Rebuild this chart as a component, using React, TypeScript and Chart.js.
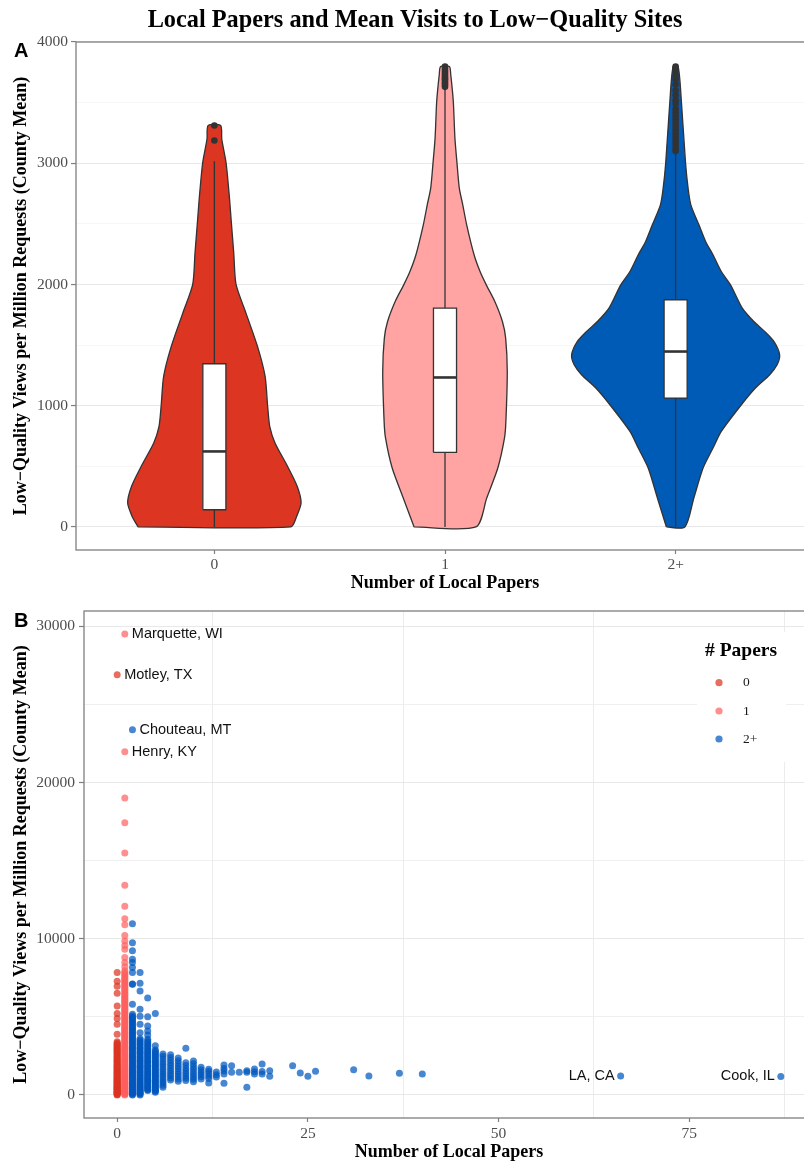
import React, { useEffect, useRef } from 'react';
import { Chart, registerables } from 'chart.js';

Chart.register(...registerables);

const SERIF = "'Liberation Serif', 'Times New Roman', Times, serif";
const SANS = "'Liberation Sans', Arial, Helvetica, sans-serif";

const MAIN_TITLE = 'Local Papers and Mean Visits to Low\u2212Quality Sites';
const Y_TITLE = 'Low\u2212Quality Views per Million Requests (County Mean)';
const X_TITLE = 'Number of Local Papers';

// ---------- Panel A: violins + boxplots ----------
const groupLabels = ['0', '1', '2+'];
const groupFill = ['#DC3522', '#FFA3A3', '#005BB7'];

const densityViews0 = [0, 89, 199, 336, 501, 693, 830, 995, 1242, 1489, 1764, 2000, 2260, 2500, 2700, 3000, 3200, 3311];
const densityWidth0 = [0.331, 0.357, 0.376, 0.359, 0.317, 0.263, 0.24, 0.231, 0.22, 0.187, 0.137, 0.094, 0.084, 0.074, 0.066, 0.051, 0.032, 0.027];
const densityViews1 = [0, 239, 486, 734, 871, 1283, 1558, 1695, 1860, 1997, 2107, 2245, 2492, 2657, 2795, 3001, 3207, 3509, 3729, 3797];
const densityWidth1 = [0.134, 0.181, 0.229, 0.258, 0.264, 0.27, 0.263, 0.249, 0.216, 0.179, 0.152, 0.126, 0.094, 0.077, 0.062, 0.052, 0.043, 0.036, 0.025, 0.019];
const densityViews2 = [0, 239, 486, 651, 788, 1008, 1146, 1256, 1338, 1420, 1530, 1613, 1695, 1805, 1997, 2107, 2245, 2355, 2492, 2657, 2795, 3001, 3509, 3797];
const densityWidth2 = [0.04, 0.079, 0.119, 0.162, 0.198, 0.285, 0.346, 0.408, 0.44, 0.451, 0.426, 0.386, 0.339, 0.289, 0.238, 0.198, 0.162, 0.13, 0.101, 0.066, 0.054, 0.043, 0.025, 0.011];

const boxLower = [142, 615, 1063];
const boxMedian = [623, 1233, 1447];
const boxUpper = [1346, 1805, 1874];
const whiskerLow = [0, 0, 0];
const whiskerHigh = [3017, 3619, 3096];
const outliers0 = [3187, 3311];
const outliers1 = [3630, 3645, 3660, 3675, 3690, 3700, 3715, 3730, 3745, 3760, 3780, 3797];
const outliers2 = [3100, 3120, 3150, 3180, 3210, 3240, 3270, 3300, 3330, 3360, 3390, 3420, 3450, 3490, 3520, 3560, 3600, 3650, 3690, 3720, 3760, 3780, 3797];

const yTicksA = [0, 500, 1000, 1500, 2000, 2500, 3000, 3500, 4000];
const xTicksA = [0, 1, 2];

// ---------- Panel B: scatter ----------
const zeroPaperViews = [0, 30, 60, 90, 120, 150, 180, 215, 250, 285, 320, 355, 390, 425, 460, 495, 530, 565, 600, 640, 680, 720, 760, 800, 840, 880, 920, 960, 1000, 1045, 1090, 1135, 1180, 1225, 1270, 1315, 1360, 1405, 1450, 1495, 1540, 1590, 1640, 1690, 1740, 1790, 1840, 1890, 1940, 1995, 2050, 2105, 2160, 2215, 2270, 2325, 2380, 2440, 2500, 2560, 2620, 2680, 2740, 2800, 2860, 2920, 2980, 3040, 3100, 3160, 3220, 3280, 3330, 3400, 3890, 4530, 4890, 5210, 5700, 6510, 6956, 7275, 7830, 26900];
const onePaperViews = [0, 40, 80, 120, 160, 200, 240, 285, 330, 375, 420, 465, 510, 555, 600, 650, 700, 750, 800, 850, 900, 950, 1000, 1050, 1100, 1150, 1200, 1255, 1310, 1365, 1420, 1475, 1530, 1585, 1640, 1700, 1760, 1820, 1880, 1940, 2000, 2060, 2120, 2185, 2250, 2315, 2380, 2445, 2510, 2575, 2640, 2710, 2780, 2850, 2920, 2990, 3060, 3130, 3200, 3275, 3350, 3425, 3500, 3575, 3650, 3725, 3800, 3875, 3950, 4025, 4100, 4180, 4260, 4340, 4420, 4500, 4580, 4660, 4740, 4820, 4900, 4980, 5060, 5145, 5230, 5315, 5400, 5485, 5570, 5655, 5740, 5825, 5910, 5995, 6080, 6170, 6260, 6350, 6440, 6530, 6620, 6710, 6800, 6890, 6980, 7070, 7160, 7255, 7350, 7445, 7540, 7640, 7740, 7845, 7950, 8210, 8470, 8790, 9320, 9570, 9850, 10210, 10890, 11275, 12080, 13420, 15490, 17420, 19000, 21970, 29500];
const multiPaperCounts = [2, 3, 4, 5, 6, 7, 8, 9, 10, 11, 12, 13, 14, 15, 16, 17, 18, 19, 20, 23, 24, 25, 26, 31, 33, 37, 40, 66, 87];
const multiPaperViews = [
  [0, 45, 90, 135, 180, 230, 280, 330, 380, 430, 480, 535, 590, 645, 700, 755, 810, 865, 920, 980, 1040, 1100, 1160, 1220, 1280, 1340, 1400, 1460, 1520, 1585, 1650, 1715, 1780, 1845, 1910, 1975, 2040, 2110, 2180, 2250, 2320, 2390, 2460, 2530, 2600, 2675, 2750, 2825, 2900, 2975, 3050, 3125, 3200, 3280, 3360, 3440, 3520, 3600, 3680, 3765, 3850, 3935, 4020, 4105, 4190, 4275, 4360, 4450, 4540, 4630, 4720, 4810, 4900, 4980, 5060, 5170, 5810, 7085, 7100, 7830, 8150, 8470, 8680, 9235, 9745, 10960, 23380],
  [0, 55, 110, 170, 230, 290, 350, 415, 480, 545, 610, 675, 740, 810, 880, 950, 1020, 1090, 1160, 1230, 1300, 1375, 1450, 1525, 1600, 1675, 1750, 1825, 1900, 1980, 2060, 2140, 2220, 2300, 2380, 2465, 2550, 2635, 2720, 2805, 2890, 2975, 3060, 3150, 3240, 3330, 3420, 3510, 3600, 3980, 4530, 5030, 5490, 6650, 7150, 7830],
  [280, 340, 400, 465, 530, 595, 660, 730, 800, 870, 940, 1010, 1080, 1150, 1220, 1295, 1370, 1445, 1520, 1595, 1670, 1745, 1820, 1900, 1980, 2060, 2140, 2220, 2300, 2385, 2470, 2555, 2640, 2725, 2810, 2900, 2990, 3080, 3170, 3265, 3360, 3460, 3560, 3830, 4100, 4420, 5000, 6210],
  [170, 235, 300, 370, 440, 510, 580, 650, 720, 795, 870, 945, 1020, 1095, 1170, 1250, 1330, 1410, 1490, 1570, 1650, 1735, 1820, 1905, 1990, 2075, 2160, 2250, 2340, 2430, 2520, 2610, 2700, 2790, 2880, 3150, 5210],
  [490, 620, 760, 900, 1040, 1190, 1340, 1490, 1650, 1810, 1970, 2130, 2300, 2470, 2620],
  [950, 1090, 1240, 1390, 1550, 1710, 1880, 2050, 2220, 2400, 2580],
  [870, 1020, 1180, 1340, 1500, 1670, 1840, 2010, 2190, 2370],
  [930, 1070, 1220, 1370, 1530, 1700, 1880, 2060, 2990],
  [850, 1000, 1150, 1310, 1470, 1640, 1810, 1990, 2170],
  [1020, 1160, 1310, 1460, 1620, 1770],
  [770, 1050, 1200, 1360, 1520, 1650],
  [1150, 1300, 1470],
  [750, 1340, 1530, 1700, 1910],
  [1450, 1870],
  [1450],
  [490, 1450, 1550],
  [1340, 1480, 1660],
  [1340, 1500, 1980],
  [1193, 1550],
  [1870],
  [1404],
  [1193],
  [1512],
  [1617],
  [1212],
  [1385],
  [1340],
  [1212],
  [1187],
];

const labelNames = ['Marquette, WI', 'Motley, TX', 'Chouteau, MT', 'Henry, KY', 'LA, CA', 'Cook, IL'];
const labelPapers = [1, 0, 2, 1, 66, 87];
const labelViews = [29500, 26900, 23380, 21970, 1212, 1187];
const labelSide = ['right', 'right', 'right', 'right', 'left', 'left'];

const legendLabels = ['0', '1', '2+'];
const pointColors = ['rgba(220,53,34,0.72)', 'rgba(255,96,96,0.7)', 'rgba(0,88,190,0.72)'];

const yTicksB = [0, 5000, 10000, 15000, 20000, 25000, 30000];
const xTicksB = [0, 12.5, 25, 37.5, 50, 62.5, 75, 87.5];

// ---------- styling ----------
const TICK_FONT = { family: SERIF, size: 15.5 };
const TICK_COLOR = '#4d4d4d';
const AXIS_COLOR = '#7f7f7f';
const TITLE_FONT = { family: SERIF, size: 18, weight: 'bold' as const };
const OUTLINE = '#333333';

const shapeFillPlugin = {
  id: 'shapeFill',
  beforeDatasetDraw(chart: any, args: any) {
    const ds = chart.data.datasets[args.index];
    if (!ds || !ds.shapeFill) return;
    const meta = args.meta;
    const line = meta.dataset;
    const ctx = chart.ctx;
    ctx.save();
    ctx.beginPath();
    if (line && typeof line.path === 'function') {
      if (typeof line.updateControlPoints === 'function') line.updateControlPoints(chart.chartArea, 'x');
      line.path(ctx);
    } else {
      meta.data.forEach((p: any, i: number) => (i ? ctx.lineTo(p.x, p.y) : ctx.moveTo(p.x, p.y)));
    }
    ctx.closePath();
    ctx.fillStyle = ds.shapeFill;
    ctx.fill();
    ctx.restore();
  },
};

function violinPolygon(center: number, views: number[], widths: number[]) {
  const left = views.map((v, i) => ({ x: center - widths[i], y: v }));
  const right = views.map((v, i) => ({ x: center + widths[i], y: v })).reverse();
  return [...left, ...right, left[0]];
}

const BOX_HALF = 0.05;

function buildConfigA(): any {
  const densities = [
    [densityViews0, densityWidth0],
    [densityViews1, densityWidth1],
    [densityViews2, densityWidth2],
  ];
  const outliers = [outliers0, outliers1, outliers2];
  const datasets: any[] = [];
  densities.forEach(([views, widths], g) => {
    datasets.push({
      data: violinPolygon(g, views, widths),
      shapeFill: groupFill[g],
      borderColor: OUTLINE,
      borderWidth: 1.3,
      pointRadius: 0,
      tension: 0.25,
      fill: false,
      order: 50,
    });
  });
  xTicksA.forEach((g) => {
    datasets.push({
      data: [{ x: g, y: whiskerLow[g] }, { x: g, y: whiskerHigh[g] }],
      borderColor: OUTLINE,
      borderWidth: 1.3,
      pointRadius: 0,
      fill: false,
      order: 40,
    });
    datasets.push({
      data: [
        { x: g - BOX_HALF, y: boxLower[g] },
        { x: g - BOX_HALF, y: boxUpper[g] },
        { x: g + BOX_HALF, y: boxUpper[g] },
        { x: g + BOX_HALF, y: boxLower[g] },
        { x: g - BOX_HALF, y: boxLower[g] },
      ],
      shapeFill: '#ffffff',
      borderColor: OUTLINE,
      borderWidth: 1.3,
      pointRadius: 0,
      tension: 0.000001,
      fill: false,
      order: 30,
    });
    datasets.push({
      data: [{ x: g - BOX_HALF, y: boxMedian[g] }, { x: g + BOX_HALF, y: boxMedian[g] }],
      borderColor: OUTLINE,
      borderWidth: 2.6,
      pointRadius: 0,
      fill: false,
      order: 20,
    });
    datasets.push({
      data: outliers[g].map((v) => ({ x: g, y: v })),
      showLine: false,
      pointRadius: 3.3,
      pointBorderWidth: 0,
      pointBackgroundColor: OUTLINE,
      order: 10,
    });
  });

  const decor = {
    id: 'decorA',
    afterDatasetsDraw(chart: any) {
      const { ctx, chartArea: a } = chart;
      ctx.save();
      ctx.strokeStyle = AXIS_COLOR;
      ctx.lineWidth = 1.3;
      ctx.strokeRect(a.left, a.top, a.right - a.left, a.bottom - a.top);
      ctx.restore();
    },
    afterDraw(chart: any) {
      const { ctx } = chart;
      ctx.save();
      ctx.fillStyle = '#000';
      ctx.textAlign = 'center';
      ctx.textBaseline = 'alphabetic';
      ctx.font = `bold 24.3px ${SERIF}`;
      ctx.fillText(MAIN_TITLE, 415, 26.7);
      ctx.textAlign = 'left';
      ctx.font = `bold 20px ${SANS}`;
      ctx.fillText('A', 14, 57.3);
      ctx.restore();
    },
  };

  return {
    type: 'line',
    data: { datasets },
    plugins: [shapeFillPlugin, decor],
    options: {
      animation: false,
      responsive: false,
      events: [],
      layout: { padding: { top: 42, right: 16, left: 0, bottom: 0 }, autoPadding: false },
      plugins: { legend: { display: false }, tooltip: { enabled: false }, title: { display: false } },
      scales: {
        x: {
          type: 'linear',
          min: -0.6,
          max: 2.6,
          afterBuildTicks: (s: any) => {
            s.ticks = xTicksA.map((v) => ({ value: v }));
          },
          afterFit: (s: any) => {
            s.height = 46;
          },
          ticks: {
            callback: (v: number) => groupLabels[v] ?? '',
            font: TICK_FONT,
            color: TICK_COLOR,
            padding: 2,
            autoSkip: false,
            maxRotation: 0,
          },
          grid: { drawOnChartArea: false, tickLength: 4, tickColor: AXIS_COLOR, tickWidth: 1.2 },
          border: { display: false },
          title: { display: true, text: X_TITLE, font: TITLE_FONT, color: '#000', padding: { top: 0, bottom: 2 } },
        },
        y: {
          type: 'linear',
          min: -190,
          max: 4000,
          afterBuildTicks: (s: any) => {
            s.ticks = yTicksA.map((v) => ({ value: v }));
          },
          afterFit: (s: any) => {
            s.width = 76;
          },
          ticks: {
            callback: (v: number) => (v % 1000 === 0 ? String(v) : ''),
            font: TICK_FONT,
            color: TICK_COLOR,
            padding: 3,
            autoSkip: false,
          },
          grid: {
            color: (c: any) => (c.tick && c.tick.value % 1000 === 0 ? '#e8e8e8' : '#f3f3f3'),
            lineWidth: (c: any) => (c.tick && c.tick.value % 1000 === 0 ? 1.1 : 0.7),
            tickLength: 5,
            tickColor: (c: any) => (c.tick && c.tick.value % 1000 === 0 ? AXIS_COLOR : 'rgba(0,0,0,0)'),
            tickWidth: 1.2,
          },
          border: { display: false },
          title: { display: true, text: Y_TITLE, font: TITLE_FONT, color: '#000', padding: { top: 11, bottom: 0 } },
        },
      },
    },
  };
}

function buildConfigB(): any {
  const blueData: any[] = [];
  multiPaperCounts.forEach((c, i) => {
    multiPaperViews[i].forEach((v) => blueData.push({ x: c, y: v }));
  });
  const base = { pointRadius: 3.5, pointBorderWidth: 0, showLine: false };
  const datasets = [
    { ...base, data: zeroPaperViews.map((v) => ({ x: 0, y: v })), pointBackgroundColor: pointColors[0], order: 3 },
    { ...base, data: onePaperViews.map((v) => ({ x: 1, y: v })), pointBackgroundColor: pointColors[1], order: 2 },
    { ...base, data: blueData, pointBackgroundColor: pointColors[2], order: 1 },
  ];

  const decor = {
    id: 'decorB',
    afterDatasetsDraw(chart: any) {
      const { ctx, chartArea: a, scales } = chart;
      ctx.save();
      ctx.font = `14.5px ${SANS}`;
      ctx.fillStyle = '#111';
      ctx.textBaseline = 'middle';
      labelNames.forEach((name, i) => {
        const px = scales.x.getPixelForValue(labelPapers[i]);
        const py = scales.y.getPixelForValue(labelViews[i]);
        if (labelSide[i] === 'right') {
          ctx.textAlign = 'left';
          ctx.fillText(name, px + 7, py);
        } else {
          ctx.textAlign = 'right';
          ctx.fillText(name, px - 6, py);
        }
      });
      ctx.strokeStyle = AXIS_COLOR;
      ctx.lineWidth = 1.3;
      ctx.strokeRect(a.left, a.top, a.right - a.left, a.bottom - a.top);
      ctx.restore();
    },
    afterDraw(chart: any) {
      const { ctx } = chart;
      ctx.save();
      ctx.fillStyle = '#ffffff';
      ctx.fillRect(697, 36, 89, 130);
      ctx.fillStyle = '#000';
      ctx.textAlign = 'left';
      ctx.textBaseline = 'middle';
      ctx.font = `bold 19.5px ${SERIF}`;
      ctx.fillText('# Papers', 705, 54.7);
      const rowsY = [86.7, 115, 143];
      legendLabels.forEach((lab, i) => {
        ctx.beginPath();
        ctx.arc(719, rowsY[i], 3.6, 0, Math.PI * 2);
        ctx.fillStyle = pointColors[i];
        ctx.fill();
        ctx.fillStyle = '#1a1a1a';
        ctx.font = `13.5px ${SERIF}`;
        ctx.fillText(lab, 743, rowsY[i]);
      });
      ctx.fillStyle = '#000';
      ctx.textBaseline = 'alphabetic';
      ctx.font = `bold 20px ${SANS}`;
      ctx.fillText('B', 14, 30.7);
      ctx.restore();
    },
  };

  return {
    type: 'scatter',
    data: { datasets },
    plugins: [decor],
    options: {
      animation: false,
      responsive: false,
      events: [],
      layout: { padding: { top: 15, right: 16, left: 0, bottom: 0 }, autoPadding: false },
      plugins: { legend: { display: false }, tooltip: { enabled: false }, title: { display: false } },
      scales: {
        x: {
          type: 'linear',
          min: -4.35,
          max: 91.35,
          afterBuildTicks: (s: any) => {
            s.ticks = xTicksB.map((v) => ({ value: v }));
          },
          afterFit: (s: any) => {
            s.height = 53;
          },
          ticks: {
            callback: (v: number) => (v % 25 === 0 ? String(v) : ''),
            font: TICK_FONT,
            color: TICK_COLOR,
            padding: 3,
            autoSkip: false,
            maxRotation: 0,
          },
          grid: {
            color: (c: any) => (c.tick && c.tick.value % 25 === 0 ? 'rgba(0,0,0,0)' : '#ececec'),
            lineWidth: 1,
            tickLength: 4,
            tickColor: (c: any) => (c.tick && c.tick.value % 25 === 0 ? AXIS_COLOR : 'rgba(0,0,0,0)'),
            tickWidth: 1.2,
          },
          border: { display: false },
          title: { display: true, text: X_TITLE, font: TITLE_FONT, color: '#000', padding: { top: 0, bottom: 8 } },
        },
        y: {
          type: 'linear',
          min: -1475,
          max: 30975,
          afterBuildTicks: (s: any) => {
            s.ticks = yTicksB.map((v) => ({ value: v }));
          },
          afterFit: (s: any) => {
            s.width = 84;
          },
          ticks: {
            callback: (v: number) => (v % 10000 === 0 ? String(v) : ''),
            font: TICK_FONT,
            color: TICK_COLOR,
            padding: 4,
            autoSkip: false,
          },
          grid: {
            color: (c: any) => (c.tick && c.tick.value % 10000 === 0 ? '#e8e8e8' : '#efefef'),
            lineWidth: 1,
            tickLength: 5,
            tickColor: (c: any) => (c.tick && c.tick.value % 10000 === 0 ? AXIS_COLOR : 'rgba(0,0,0,0)'),
            tickWidth: 1.2,
          },
          border: { display: false },
          title: { display: true, text: Y_TITLE, font: TITLE_FONT, color: '#000', padding: { top: 11, bottom: 0 } },
        },
      },
    },
  };
}

export default function App() {
  const refA = useRef<HTMLCanvasElement>(null);
  const refB = useRef<HTMLCanvasElement>(null);

  useEffect(() => {
    const a = new Chart(refA.current as HTMLCanvasElement, buildConfigA());
    const b = new Chart(refB.current as HTMLCanvasElement, buildConfigB());
    return () => {
      a.destroy();
      b.destroy();
    };
  }, []);

  return (
    <div style={{ position: 'fixed', left: 0, top: 0, width: 804, height: 1162, overflow: 'hidden', background: '#ffffff' }}>
      <div style={{ position: 'absolute', left: 0, top: 0, width: 830, height: 596 }}>
        <canvas ref={refA} width={830} height={596} style={{ display: 'block' }} />
      </div>
      <div style={{ position: 'absolute', left: 0, top: 596, width: 830, height: 575 }}>
        <canvas ref={refB} width={830} height={575} style={{ display: 'block' }} />
      </div>
    </div>
  );
}
